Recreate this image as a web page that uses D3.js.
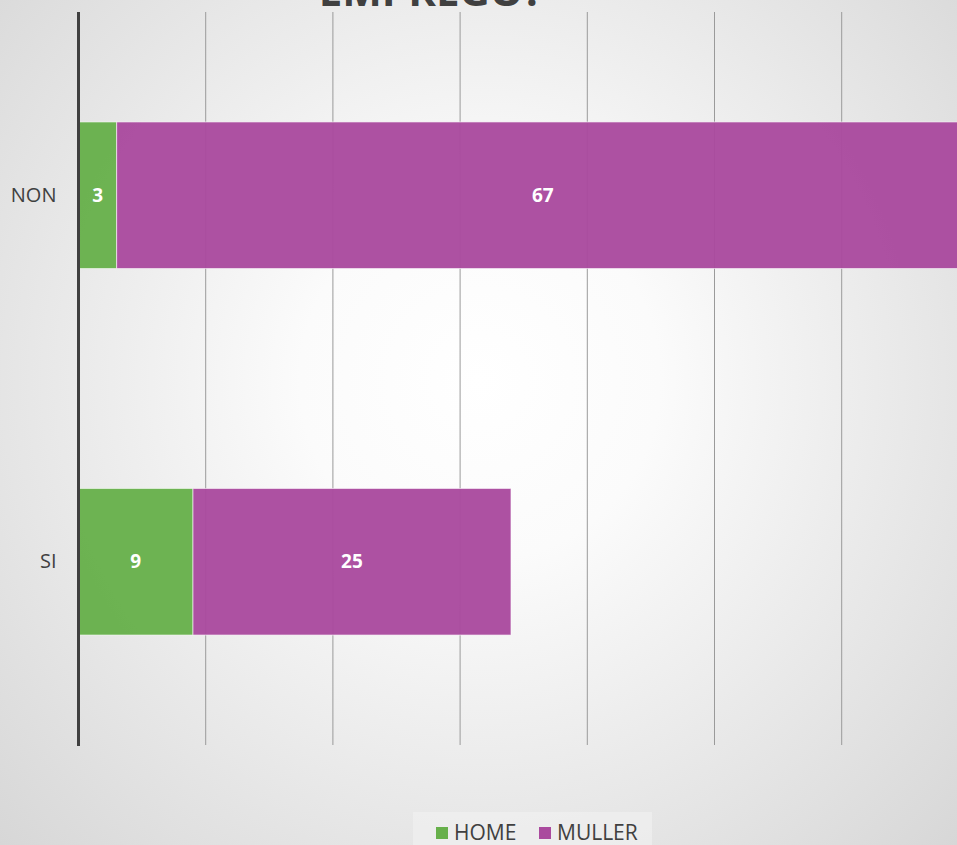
<!DOCTYPE html>
<html>
<head>
<meta charset="utf-8">
<script src="https://cdn.jsdelivr.net/npm/d3@7"></script>
<style>
  html, body { margin: 0; padding: 0; overflow: hidden; }
  svg { display: block; font-family: "Open Sans", "Noto Sans", sans-serif; }
</style>
</head>
<body>
<div id="chart"></div>
<script>
const title = "EMPREGO?";
const categories = ["NON", "SI"];
const seriesNames = ["HOME", "MULLER"];
const home = [3, 9];
const muller = [67, 25];
const gridTicks = [10, 20, 30, 40, 50, 60, 70];
const colors = ["#67b04b", "#aa4a9e"];

const width = 957, height = 845;
const margin = { top: 12, left: 78.5, bottom: 100 };

const svg = d3.select("#chart").append("svg")
    .attr("width", width)
    .attr("height", height);

// soft radial background
const defs = svg.append("defs");
const grad = defs.append("radialGradient")
    .attr("id", "bg")
    .attr("gradientUnits", "userSpaceOnUse")
    .attr("cx", 480).attr("cy", 380).attr("r", 720);
grad.append("stop").attr("offset", "0%").attr("stop-color", "#ffffff");
grad.append("stop").attr("offset", "25%").attr("stop-color", "#fbfbfb");
grad.append("stop").attr("offset", "100%").attr("stop-color", "#d3d3d3");
svg.append("rect").attr("width", width).attr("height", height).attr("fill", "url(#bg)");

const x = d3.scaleLinear().domain([0, 70]).range([margin.left, margin.left + 127.2 * 7]);
const y = d3.scaleBand().domain(categories)
    .range([margin.top, height - margin.bottom])
    .paddingInner(0.6).paddingOuter(0.3);

// gridlines
svg.append("g")
    .selectAll("line")
    .data(gridTicks)
    .join("line")
    .attr("x1", (d) => x(d)).attr("x2", (d) => x(d))
    .attr("y1", margin.top).attr("y2", height - margin.bottom)
    .attr("stroke", "#9a9a9a")
    .attr("stroke-width", 1);

// stacked data
const rows = categories.map((c, i) => ({ cat: c, HOME: home[i], MULLER: muller[i] }));
const stack = d3.stack().keys(seriesNames)(rows);

const layers = svg.append("g")
    .selectAll("g")
    .data(stack)
    .join("g")
    .attr("fill", (d, i) => colors[i]);

layers.selectAll("rect")
    .data((d) => d)
    .join("rect")
    .attr("x", (d) => x(d[0]))
    .attr("y", (d) => y(d.data.cat))
    .attr("width", (d) => x(d[1]) - x(d[0]))
    .attr("height", y.bandwidth())
    .attr("fill-opacity", 0.96)
    .attr("stroke", "#ffffff")
    .attr("stroke-opacity", 0.6)
    .attr("stroke-width", 1);

// value labels
layers.selectAll("text")
    .data((d) => d)
    .join("text")
    .attr("x", (d) => (x(d[0]) + x(d[1])) / 2)
    .attr("y", (d) => y(d.data.cat) + y.bandwidth() / 2)
    .attr("dy", "0.35em")
    .attr("text-anchor", "middle")
    .attr("fill", "#ffffff")
    .attr("font-weight", "bold")
    .attr("font-size", 19)
    .text((d) => d[1] - d[0]);

// category axis
const yAxis = svg.append("g")
    .attr("transform", `translate(${margin.left},0)`)
    .call(d3.axisLeft(y).tickSize(0).tickPadding(22));
yAxis.select(".domain").remove();
yAxis.selectAll("text")
    .attr("font-size", 20)
    .attr("font-family", "Open Sans, sans-serif")
    .attr("fill", "#404040");

svg.append("line")
    .attr("x1", margin.left).attr("x2", margin.left)
    .attr("y1", margin.top).attr("y2", height - margin.bottom + 1)
    .attr("stroke", "#404040")
    .attr("stroke-width", 3);

// title (cut at top, as in the source)
svg.append("text")
    .attr("x", 431)
    .attr("y", 6)
    .attr("text-anchor", "middle")
    .attr("font-size", 42)
    .attr("font-weight", "bold")
    .attr("fill", "#404040")
    .text(title);

// legend
const legend = svg.append("g").attr("transform", "translate(413,812)");
legend.append("rect")
    .attr("width", 239).attr("height", 33)
    .attr("fill", "#f2f2f2").attr("fill-opacity", 0.6);
const item = legend.selectAll("g")
    .data(seriesNames)
    .join("g")
    .attr("transform", (d, i) => `translate(${i === 0 ? 23 : 126},0)`);
item.append("rect")
    .attr("y", 15).attr("width", 12).attr("height", 12)
    .attr("fill", (d, i) => colors[i]);
item.append("text")
    .attr("x", 18).attr("y", 21)
    .attr("dy", "0.35em")
    .attr("font-size", 21)
    .attr("fill", "#404040")
    .text((d) => d);
</script>
</body>
</html>
